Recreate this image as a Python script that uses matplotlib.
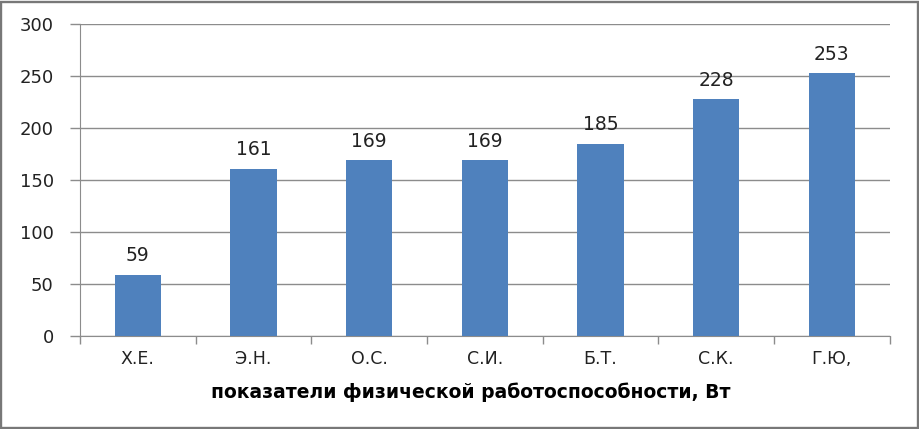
import matplotlib
matplotlib.use("Agg")
import matplotlib.pyplot as plt
from matplotlib.patches import Rectangle

plt.rcParams['font.family'] = ['DejaVu Sans']

names = ['Х.Е.', 'Э.Н.', 'О.С.', 'С.И.', 'Б.Т.', 'С.К.', 'Г.Ю,']
values = [59, 161, 169, 169, 185, 228, 253]
yticks = [0, 50, 100, 150, 200, 250, 300]

fig = plt.figure(figsize=(9.2, 4.29), dpi=100)
ax = fig.add_axes([0.087, 0.217, 0.880, 0.727])

# outer frame
fig.patches.append(Rectangle((0.0015, 0.003), 0.996, 0.993, transform=fig.transFigure,
                             facecolor='white', edgecolor='#787878', linewidth=1.7, zorder=-1))

x = range(len(names))
bars = ax.bar(x, values, width=0.4, color='#4f81bd', zorder=3)
for i, v in enumerate(values):
    ax.text(i, v + 9, str(v), ha='center', va='bottom', fontsize=13.5, color='#222222')

ax.set_xlim(-0.5, len(names) - 0.5)
ax.set_ylim(0, 300)
ax.set_yticks(yticks)
ax.set_yticklabels([str(t) for t in yticks], fontsize=13, color='#222222')
ax.yaxis.grid(True, color='#8c8c8c', linewidth=1.0, zorder=0)
ax.set_axisbelow(True)

ax.set_xticks(list(x))
ax.set_xticklabels(names, fontsize=12.5, color='#222222')
ax.tick_params(axis='x', length=0, pad=10)
ax.set_xticks([i - 0.5 for i in range(len(names) + 1)], minor=True)
ax.tick_params(axis='x', which='minor', length=6, color='#8c8c8c', width=1)
ax.tick_params(axis='y', length=7, color='#8c8c8c', width=1, pad=12)

for s in ['top', 'right']:
    ax.spines[s].set_visible(False)
ax.spines['left'].set_color('#8c8c8c')
ax.spines['bottom'].set_color('#8c8c8c')

ax.set_xlabel('показатели физической работоспособности, Вт', fontsize=13.5,
              fontweight='bold')
ax.xaxis.set_label_coords(0.483, -0.18)
ax.xaxis.label.set_va('center')
ax.patch.set_alpha(0)
fig.patch.set_facecolor('white')

plt.savefig('out.png', dpi=100)
